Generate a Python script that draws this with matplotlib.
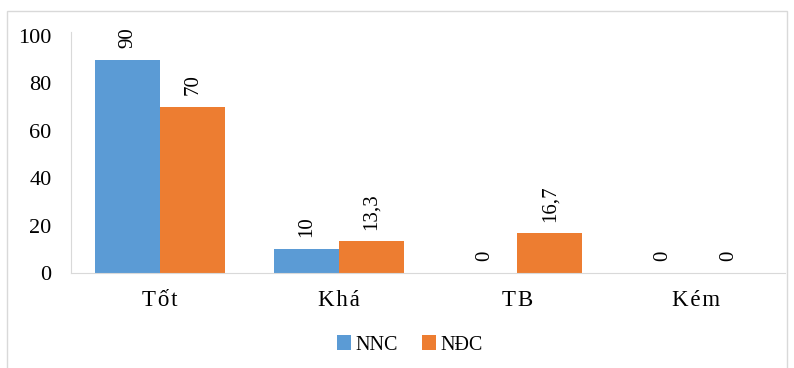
import matplotlib.pyplot as plt
from matplotlib.patches import Rectangle
import numpy as np

# Dữ liệu biểu đồ
nhom = ["Tốt", "Khá", "TB", "Kém"]
nnc = [90, 10, 0, 0]
ndc = [70, 13.3, 16.7, 0]
nhan_nnc = ["90", "10", "0", "0"]
nhan_ndc = ["70", "13,3", "16,7", "0"]

plt.rcParams["font.family"] = ["Liberation Serif", "DejaVu Serif"]

fig = plt.figure(figsize=(7.94, 3.68), dpi=100)
ax = fig.add_axes([71 / 794, 1 - 273 / 368, 714 / 794, 237 / 368])

x = np.arange(len(nhom))
w = 0.365
b1 = ax.bar(x - w / 2, nnc, w, color="#5B9BD5", label="NNC")
b2 = ax.bar(x + w / 2, ndc, w, color="#ED7D31", label="NĐC")

for bars, nhan in ((b1, nhan_nnc), (b2, nhan_ndc)):
    for r, t in zip(bars, nhan):
        ax.annotate(t, (r.get_x() + r.get_width() / 2, r.get_height()),
                    xytext=(0, 8.5), textcoords="offset points",
                    rotation=90, ha="center", va="bottom", fontsize=15)

ax.set_xlim(-0.5, 3.5)
ax.set_ylim(0, 100)
ax.set_yticks(range(0, 101, 20))
ax.set_xticks(x)
ax.set_xticklabels(["\u200a".join(n) for n in nhom], fontsize=16.5)
ax.tick_params(axis="y", labelsize=16, length=0, pad=14)
ax.tick_params(axis="x", length=0, pad=12)

for s in ("top", "right"):
    ax.spines[s].set_visible(False)
ax.spines["left"].set_color("#D9D9D9")
ax.spines["bottom"].set_color("#D9D9D9")
ax.spines["left"].set_bounds(0, 101.5)

ax.legend(loc="center", bbox_to_anchor=(410 / 794, 1 - 345 / 368),
          bbox_transform=fig.transFigure, ncol=2, frameon=False,
          fontsize=14.5, handlelength=0.7, handleheight=0.7,
          handletextpad=0.2, columnspacing=1.2)

# khung viền quanh hình
fig.patches.append(Rectangle((7 / 794, -0.01), 780 / 794, 1 - 11 / 368 + 0.01,
                             transform=fig.transFigure, fill=False,
                             edgecolor="#D9D9D9", linewidth=1))

fig.savefig("out.png", dpi=100)
